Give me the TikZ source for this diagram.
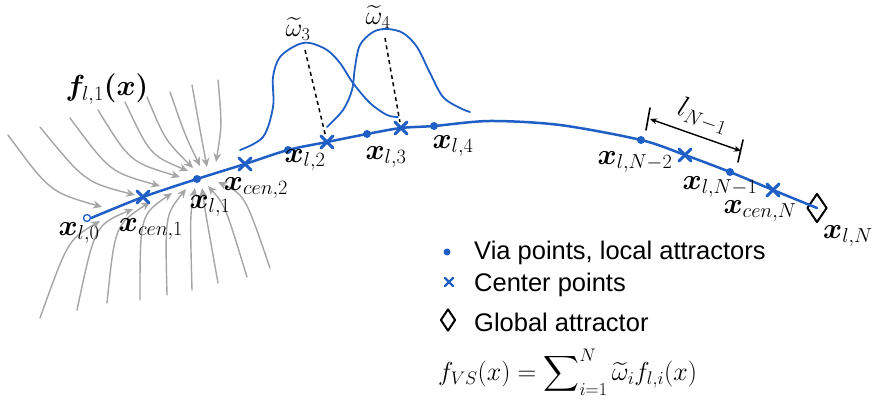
\RequirePackage{fix-cm}
\documentclass[tikz,border=0pt]{standalone}
\usepackage{amsmath}
\usepackage{bm}
\usepackage{fontspec}
\newfontfamily\keyfont{Liberation Sans}
\usetikzlibrary{shapes.geometric,shapes.misc,arrows.meta}

\begin{document}
\begin{tikzpicture}[x=1pt,y=-1pt,line cap=round,line join=round]

\definecolor{route}{RGB}{31,94,196}
\definecolor{flow}{RGB}{165,165,165}

\tikzset{
  via/.style={circle,fill=route,inner sep=0pt,minimum size=8pt},
  centre/.style={cross out,draw=route,line width=3pt,inner sep=0pt,minimum size=9pt},
  goal/.style={diamond,draw=black,line width=2pt,inner sep=0pt,minimum width=20pt,minimum height=29pt},
  lab/.style={font=\fontsize{29}{31}\selectfont,inner sep=0pt},
  key/.style={font=\keyfont\fontsize{25.5}{27}\selectfont,inner sep=0pt,anchor=west},
  stream/.style={flow,line width=1.4pt,-{Stealth[length=9pt,width=8pt]}},
  bump/.style={route,line width=1.8pt},
}

\path[use as bounding box] (0,0) rectangle (873,412);

% flow field of f_{l,1}
\foreach \s/\c/\e in {{8,135}/{50,192}/{102,207},{40,127}/{85,182}/{135,195},
  {70,118}/{110,172}/{160,186},{98,110}/{130,162}/{180,177},{125,102}/{150,155}/{188,171},
  {147,97}/{165,140}/{193,168},{170,92}/{185,135}/{200,166},{192,85}/{200,130}/{207,167},
  {218,80}/{222,125}/{216,162}}
  \draw[stream] (\s) .. controls (\c) .. (\e);
\foreach \s/\c/\e in {{40,318}/{68,240}/{100,221},{77,310}/{95,225}/{133,209},
  {107,303}/{115,225}/{150,202},{140,300}/{140,215}/{172,193},{167,295}/{165,215}/{186,189},
  {192,290}/{190,215}/{195,188},{218,283}/{205,210}/{202,188},{247,277}/{225,205}/{208,186},
  {270,268}/{245,195}/{218,182}}
  \draw[stream] (\s) .. controls (\c) .. (\e);

% points on the path
\node[circle,draw=route,fill=white,line width=1.3pt,inner sep=0pt,minimum size=7pt] (l0) at (87,218) {};
\node[centre] (c1) at (143,197) {};
\node[via] (l1) at (197,179) {};
\node[centre] (c2) at (245,164) {};
\node[via] (l2) at (288,150) {};
\node[centre] (c3) at (327,142) {};
\node[via] (l3) at (367,134) {};
\node[centre] (c4) at (401,128) {};
\node[via] (l4) at (434,126) {};
\coordinate (top1) at (490,121);
\coordinate (top2) at (560,125);
\node[via] (lN2) at (641,140) {};
\node[centre] (cN1) at (685,155) {};
\node[via] (lN1) at (730,172) {};
\node[centre] (cN) at (773,190) {};
\node[goal] (lN) at (817,208) {};

% path
\draw[route,line width=2.5pt] plot[smooth] coordinates {(l0.east) (c1.center) (l1.center) (c2.center)
  (l2.center) (c3.center) (l3.center) (c4.center) (l4.center) (top1) (top2) (lN2.center)
  (cN1.center) (lN1.center) (cN.center) (lN.center)};

% weights
\draw[bump] plot[smooth,tension=.55] coordinates {(240,150) (263,137) (273,107) (273,77) (280,57)
  (297,45) (310,43) (327,50) (340,63) (353,83) (370,103) (387,115) (398,117)};
\draw[bump] plot[smooth,tension=.55] coordinates {(327,127) (343,110) (352,90) (355,67) (360,45)
  (373,32) (387,29) (403,33) (417,47) (430,73) (443,97) (460,108) (470,112)};
\coordinate (w3) at (305,50);
\coordinate (w4) at (385,38);
\draw[black,line width=1.5pt,dash pattern=on 4pt off 3.5pt,line cap=butt] (w3) -- (c3);
\draw[black,line width=1.5pt,dash pattern=on 4pt off 3.5pt,line cap=butt] (w4) -- (c4);
\node[lab,font=\fontsize{26}{28}\selectfont] (w3lab) at (298,29) {$\widetilde{\omega}_3$};
\node[lab,font=\fontsize{26}{28}\selectfont] (w4lab) at (378,17) {$\widetilde{\omega}_4$};

% segment length
\coordinate (t1a) at (650,108);
\coordinate (t1b) at (646,130);
\coordinate (t2a) at (743,140);
\coordinate (t2b) at (738,162);
\coordinate (d1) at (650,119);
\coordinate (d2) at (741,151);
\draw[black,line width=1.6pt] (t1a) -- (t1b);
\draw[black,line width=1.6pt] (t2a) -- (t2b);
\draw[black,line width=1.4pt,{Stealth[length=7pt,width=6pt]}-{Stealth[length=7pt,width=6pt]}] (d1) -- (d2);
\node[lab,rotate=-19] (seg) at (703,116) {$l_{N-1}$};

% labels
\node[lab] (fl1) at (107,89) {$\bm{f}_{l,1}\bm{(x)}$};
\node[lab] at (79,233) {$\bm{x}_{l,0}$};
\node[lab] at (151,229) {$\bm{x}_{cen,1}$};
\node[lab] at (210,206) {$\bm{x}_{l,1}$};
\node[lab] at (256,188) {$\bm{x}_{cen,2}$};
\node[lab] at (305,160) {$\bm{x}_{l,2}$};
\node[lab] at (386,157) {$\bm{x}_{l,3}$};
\node[lab] at (453,146) {$\bm{x}_{l,4}$};
\node[lab] at (635,162) {$\bm{x}_{l,N-2}$};
\node[lab] at (720,187) {$\bm{x}_{l,N-1}$};
\node[lab] at (760,211) {$\bm{x}_{cen,N}$};
\node[lab] at (848,236) {$\bm{x}_{l,N}$};

% legend
\node[via,minimum size=7pt] (kvia) at (447,252) {};
\node[centre,minimum size=6pt,line width=2.2pt] (kcen) at (449,282) {};
\node[goal,minimum width=15pt,minimum height=22pt] (kgoal) at (448,320) {};
\node[key] (tvia) at (474,253) {Via points, local attractors};
\node[key] (tcen) at (474,285) {Center points};
\node[key] (tgoal) at (474,322) {Global attractor};
\node[lab,font=\fontsize{26}{28}\selectfont,anchor=west] (fvs) at (438,372)
  {$f_{VS}(x) = \displaystyle\sum\nolimits_{i=1}^{N}\widetilde{\omega}_i f_{l,i}(x)$};

\end{tikzpicture}
\end{document}
